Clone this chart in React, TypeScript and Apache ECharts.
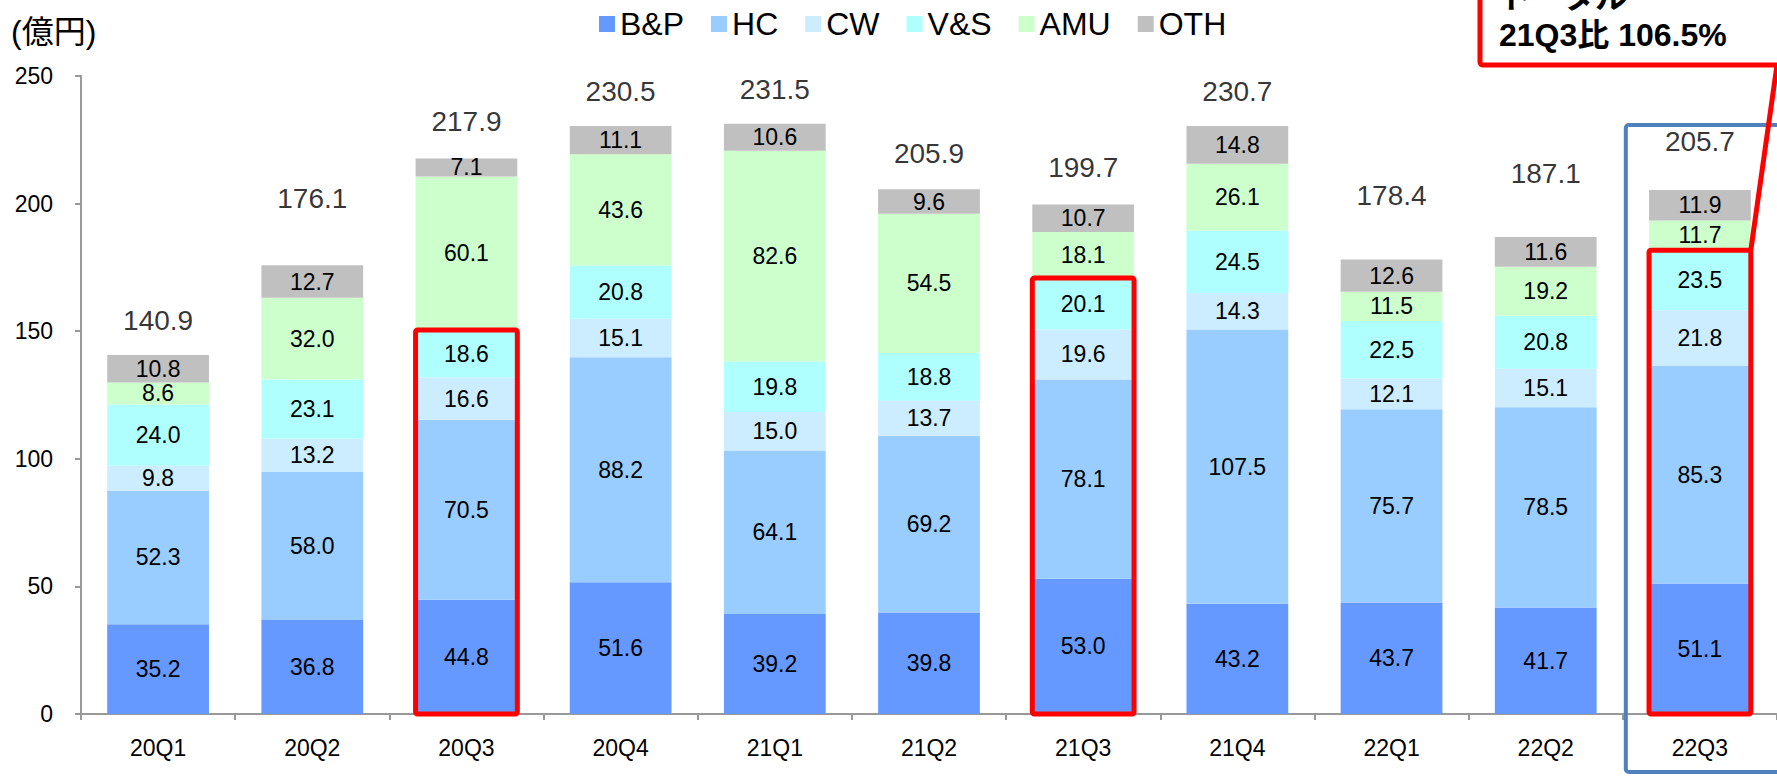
import React, { useEffect, useRef } from 'react';
import * as echarts from 'echarts';

const categories = ['20Q1', '20Q2', '20Q3', '20Q4', '21Q1', '21Q2', '21Q3', '21Q4', '22Q1', '22Q2', '22Q3'];
const bpValues = [35.2, 36.8, 44.8, 51.6, 39.2, 39.8, 53.0, 43.2, 43.7, 41.7, 51.1];
const hcValues = [52.3, 58.0, 70.5, 88.2, 64.1, 69.2, 78.1, 107.5, 75.7, 78.5, 85.3];
const cwValues = [9.8, 13.2, 16.6, 15.1, 15.0, 13.7, 19.6, 14.3, 12.1, 15.1, 21.8];
const vsValues = [24.0, 23.1, 18.6, 20.8, 19.8, 18.8, 20.1, 24.5, 22.5, 20.8, 23.5];
const amuValues = [8.6, 32.0, 60.1, 43.6, 82.6, 54.5, 18.1, 26.1, 11.5, 19.2, 11.7];
const othValues = [10.8, 12.7, 7.1, 11.1, 10.6, 9.6, 10.7, 14.8, 12.6, 11.6, 11.9];
const totalLabels = [140.9, 176.1, 217.9, 230.5, 231.5, 205.9, 199.7, 230.7, 178.4, 187.1, 205.7];
const yTicks = [0, 50, 100, 150, 200, 250];
const highlightedCategories = ['20Q3', '21Q3', '22Q3'];
const focusCategory = '22Q3';
const calloutLines = ['トータル', '21Q3比 106.5%'];

// styling: gap (px) between bar top and total label, per category
const totalLabelGap = [20, 52, 22, 20, 20, 21, 23, 20, 49, 49, 34];

const FONT = '"Liberation Sans", Arial, "Noto Sans CJK JP", sans-serif';

const seriesDefs = [
  { name: 'B&P', data: bpValues, color: '#6699FF' },
  { name: 'HC', data: hcValues, color: '#99CCFF' },
  { name: 'CW', data: cwValues, color: '#CCECFF' },
  { name: 'V&S', data: vsValues, color: '#B0FFFF' },
  { name: 'AMU', data: amuValues, color: '#CCFFCC' },
  { name: 'OTH', data: othValues, color: '#C0C0C0' },
];

export default function App() {
  const ref = useRef<HTMLDivElement>(null);

  useEffect(() => {
    document.body.style.margin = '0';
    const chart = echarts.init(ref.current!, null, { renderer: 'svg' });

    const stackTops = categories.map((_, i) =>
      seriesDefs.reduce((s, d) => s + d.data[i], 0)
    );

    const barSeries = seriesDefs.map((s) => ({
      name: s.name,
      type: 'bar',
      stack: 'total',
      barWidth: '66%',
      itemStyle: { color: s.color },
      emphasis: { disabled: true },
      label: {
        show: true,
        position: 'inside',
        fontSize: 23,
        color: '#000',
        fontFamily: FONT,
        formatter: (p: any) => Number(p.value).toFixed(1),
      },
      data: s.data,
    }));

    const totalSeries = {
      name: 'total',
      type: 'scatter',
      symbolSize: 1,
      itemStyle: { color: 'rgba(0,0,0,0)' },
      silent: true,
      z: 5,
      data: stackTops.map((v, i) => ({
        value: [categories[i], v],
        label: {
          show: true,
          position: 'top',
          distance: totalLabelGap[i],
          fontSize: 28,
          color: '#000',
          fontFamily: FONT,
          formatter: () => totalLabels[i].toFixed(1),
        },
      })),
    };

    chart.setOption({
      animation: false,
      textStyle: { fontFamily: FONT },
      legend: {
        data: seriesDefs.map((s) => s.name),
        left: 594,
        top: 3,
        itemWidth: 16,
        itemHeight: 16,
        itemGap: 27,
        icon: 'rect',
        textStyle: { fontSize: 32, color: '#000', fontFamily: FONT, padding: [0, 0, 0, 0] },
        selectedMode: false,
      },
      grid: { left: 81, top: 76, width: 1700, height: 638, containLabel: false },
      xAxis: {
        type: 'category',
        data: categories,
        axisLine: { lineStyle: { color: '#999', width: 2 } },
        axisTick: { show: true, length: 6, lineStyle: { color: '#999', width: 2 } },
        axisLabel: { fontSize: 23, color: '#000', margin: 22, fontFamily: FONT },
      },
      yAxis: {
        type: 'value',
        min: yTicks[0],
        max: yTicks[yTicks.length - 1],
        interval: yTicks[1] - yTicks[0],
        axisLine: { show: true, lineStyle: { color: '#999', width: 2 } },
        axisTick: { show: true, length: 6, lineStyle: { color: '#999', width: 2 } },
        splitLine: { show: false },
        axisLabel: { fontSize: 23, color: '#000', margin: 28, fontFamily: FONT },
      },
      series: [...barSeries, totalSeries],
    });

    // annotations derived from axes
    const p0 = chart.convertToPixel({ gridIndex: 0 }, [0, 0]) as number[];
    const p1 = chart.convertToPixel({ gridIndex: 0 }, [1, 0]) as number[];
    const catW = p1[0] - p0[0];
    const barW = catW * 0.66;
    const zeroY = p0[1];

    const graphics: any[] = [];
    let focusCorner: number[] = [0, 0];
    highlightedCategories.forEach((c) => {
      const i = categories.indexOf(c);
      const top = bpValues[i] + hcValues[i] + cwValues[i] + vsValues[i];
      const pt = chart.convertToPixel({ gridIndex: 0 }, [i, top]) as number[];
      const x = pt[0] - barW / 2;
      graphics.push({
        type: 'rect',
        z: 100,
        shape: { x, y: pt[1], width: barW, height: zeroY - pt[1], r: 2 },
        style: { fill: 'none', stroke: '#FF0000', lineWidth: 5 },
      });
      if (c === focusCategory) focusCorner = [x + barW, pt[1]];
    });

    const fi = categories.indexOf(focusCategory);
    const fp = chart.convertToPixel({ gridIndex: 0 }, [fi, 0]) as number[];
    graphics.push({
      type: 'rect',
      z: 90,
      shape: { x: fp[0] - catW / 2 + 3, y: 125, width: 400, height: 772 - 125, r: 3 },
      style: { fill: 'none', stroke: '#4F81BD', lineWidth: 4 },
    });

    // callout box
    graphics.push({
      type: 'rect',
      z: 110,
      shape: { x: 1480, y: -30, width: 400, height: 95, r: 3 },
      style: { fill: '#fff', stroke: '#FF0000', lineWidth: 5 },
    });
    graphics.push({
      type: 'text',
      z: 111,
      x: 1499,
      y: -3,
      style: {
        text: calloutLines[0],
        fontSize: 32,
        fontWeight: 'bold',
        fill: '#000',
        fontFamily: FONT,
        verticalAlign: 'middle',
      },
    });
    graphics.push({
      type: 'text',
      z: 111,
      x: 1499,
      y: 35,
      style: {
        text: calloutLines[1],
        fontSize: 32,
        fontWeight: 'bold',
        fill: '#000',
        fontFamily: FONT,
        verticalAlign: 'middle',
      },
    });
    graphics.push({
      type: 'line',
      z: 105,
      shape: { x1: focusCorner[0], y1: focusCorner[1], x2: 1777, y2: 65 },
      style: { stroke: '#FF0000', lineWidth: 5 },
    });

    // y axis unit
    graphics.push({
      type: 'text',
      z: 100,
      x: 11,
      y: 32,
      style: {
        text: '(億円)',
        fontSize: 32,
        fill: '#000',
        fontFamily: FONT,
        verticalAlign: 'middle',
      },
    });

    chart.setOption({ graphic: graphics });

    return () => chart.dispose();
  }, []);

  return (
    <div
      ref={ref}
      style={{ position: 'fixed', left: 0, top: 0, width: 1777, height: 776, background: '#fff' }}
    />
  );
}
